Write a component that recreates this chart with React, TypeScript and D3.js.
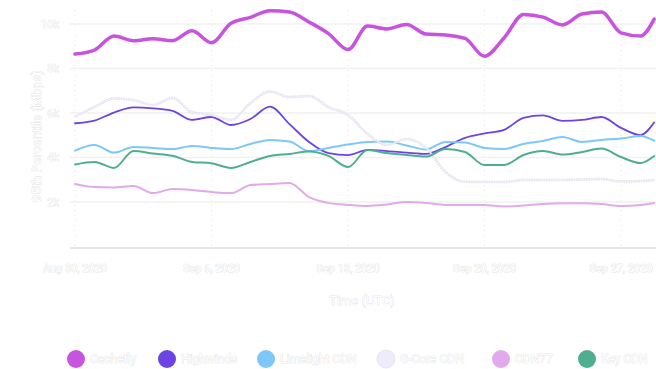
import React from "react";
import * as d3 from "d3";

const dayOffsets = [0,1,2,3,4,5,6,7,8,9,10,11,12,13,14,15,16,17,18,19,20,21,22,23,24,25,26,27,28,29,29.7];
const dates = dayOffsets.map((d) => new Date(Date.UTC(2020, 7, 30) + d * 86400000));

const cachefly = [8.65,8.83,9.46,9.25,9.34,9.25,9.70,9.16,10.03,10.30,10.60,10.54,10.09,9.57,8.85,9.91,9.78,9.98,9.55,9.51,9.35,8.55,9.37,10.43,10.31,9.96,10.45,10.54,9.60,9.46,10.22];
const highwinds = [5.54,5.66,6.02,6.25,6.21,6.10,5.69,5.82,5.46,5.73,6.29,5.50,4.70,4.20,4.11,4.34,4.29,4.22,4.16,4.47,4.88,5.08,5.24,5.78,5.89,5.65,5.69,5.82,5.33,5.01,5.57];
const limelight = [4.31,4.56,4.22,4.47,4.43,4.38,4.52,4.43,4.38,4.61,4.79,4.72,4.29,4.43,4.58,4.70,4.72,4.54,4.36,4.70,4.67,4.43,4.38,4.61,4.74,4.92,4.70,4.79,4.85,4.97,4.76];
const gcore = [5.83,6.27,6.65,6.58,6.36,6.67,6.04,5.91,5.69,6.45,6.96,6.72,6.76,6.27,5.91,5.06,4.56,4.83,4.43,3.35,2.91,2.90,2.90,2.99,2.99,2.99,3.01,3.03,2.92,2.94,2.99];
const cdn77 = [2.81,2.67,2.65,2.72,2.40,2.58,2.54,2.45,2.40,2.76,2.81,2.85,2.22,1.96,1.87,1.82,1.89,2.00,1.96,1.87,1.87,1.87,1.80,1.84,1.91,1.94,1.94,1.91,1.82,1.87,1.96];
const keycdn = [3.69,3.80,3.53,4.29,4.18,4.08,3.80,3.74,3.53,3.80,4.07,4.16,4.27,4.07,3.57,4.34,4.20,4.11,4.04,4.38,4.25,3.66,3.66,4.11,4.29,4.13,4.25,4.40,4.02,3.75,4.07];

const seriesNames = ["Cachefly", "Highwinds", "Limelight CDN", "G-Core CDN", "CDN77", "Key CDN"];
const seriesValues = [cachefly, highwinds, limelight, gcore, cdn77, keycdn];
const seriesColors = ["#c853df", "#6c44e6", "#7dc7fb", "#eeebfb", "#e2a9ec", "#4fae8f"];
const seriesWidths = [3.5, 1.8, 2, 1.4, 2, 2];

const yTicks = [2, 4, 6, 8, 10];
const xTickDates = [
  new Date(Date.UTC(2020, 7, 30)),
  new Date(Date.UTC(2020, 8, 6)),
  new Date(Date.UTC(2020, 8, 13)),
  new Date(Date.UTC(2020, 8, 20)),
  new Date(Date.UTC(2020, 8, 27)),
];
const xTickLabels = ["Aug 30, 2020", "Sep 6, 2020", "Sep 13, 2020", "Sep 20, 2020", "Sep 27, 2020"];
const legendX = [76, 167, 266, 386, 501, 587];

const W = 656;
const H = 369;

const textStyle: React.CSSProperties = {
  fontFamily: "Roboto, 'Open Sans', sans-serif",
  fill: "#ffffff",
  stroke: "#cfcfcf",
  strokeWidth: 0.5,
  paintOrder: "stroke",
};

export default function App() {
  const x = d3
    .scaleUtc()
    .domain([xTickDates[0], xTickDates[4]])
    .range([75, 621]);
  const y = d3.scaleLinear().domain([0, 10]).range([246.5, 24]);

  const line = d3
    .line<number>()
    .x((_, i) => x(dates[i]))
    .y((v) => y(v))
    .curve(d3.curveMonotoneX);

  return (
    <svg
      width={W}
      height={H}
      style={{ position: "absolute", left: 0, top: 0, background: "#fff" }}
    >
      {yTicks.map((t) => (
        <line key={"g" + t} x1={70} x2={656} y1={y(t)} y2={y(t)} stroke="#f1f1f1" strokeWidth={1.5} />
      ))}
      {xTickDates.map((d, i) => (
        <line key={"v" + i} x1={x(d)} x2={x(d)} y1={10} y2={248} stroke="#e6e6e6" strokeWidth={1} strokeDasharray="1,4" />
      ))}
      <line x1={70} x2={656} y1={248} y2={248} stroke="#cccccc" strokeWidth={1} />

      {seriesValues.map((vals, si) => (
        <g key={"s" + si}>
          {si === 3 && (
            <path d={line(vals) || ""} fill="none" stroke="#dcd8e8" strokeWidth={2.6} strokeDasharray="1.5,1" strokeLinejoin="round" />
          )}
          <path
            d={line(vals) || ""}
            fill="none"
            stroke={seriesColors[si]}
            strokeWidth={seriesWidths[si]}
            strokeLinejoin="round"
            strokeLinecap="round"
          />
        </g>
      ))}

      {yTicks.map((t) => (
        <text key={"yt" + t} x={59} y={y(t)} dy="0.35em" textAnchor="end" fontSize={11} style={textStyle}>
          {t + "k"}
        </text>
      ))}
      {xTickDates.map((d, i) => (
        <text key={"xt" + i} x={x(d)} y={268} dy="0.35em" textAnchor="middle" fontSize={11} style={textStyle}>
          {xTickLabels[i]}
        </text>
      ))}

      <text x={362} y={300} dy="0.35em" textAnchor="middle" fontSize={13} style={textStyle}>
        Time (UTC)
      </text>
      <text
        transform={`translate(36,136) rotate(-90)`}
        dy="0.35em"
        textAnchor="middle"
        fontSize={13}
        style={textStyle}
      >
        95th Percentile (Mbps)
      </text>

      {seriesNames.map((n, i) => (
        <g key={"l" + i} transform={`translate(${legendX[i]},359)`}>
          <circle r={9} fill={seriesColors[i]} stroke={i === 3 ? "#e2deef" : "none"} strokeWidth={0.8} />
          <text x={14} dy="0.35em" fontSize={12} style={textStyle}>
            {n}
          </text>
        </g>
      ))}
    </svg>
  );
}
